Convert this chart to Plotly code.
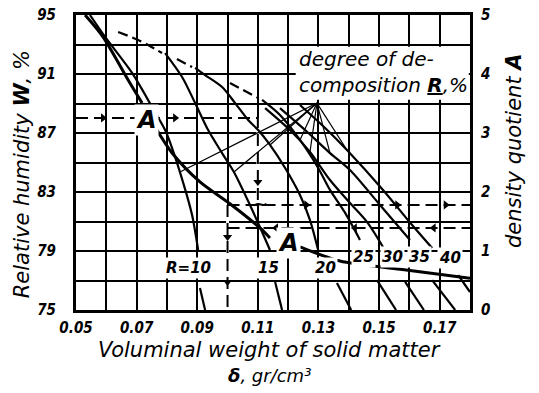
import plotly.graph_objects as go

# ---------------- data ----------------
# density quotient A curve (right axis), three pieces separated by the "A" labels
a_up_d = [0.053, 0.0589, 0.0672, 0.0718]
a_up_v = [5.0, 4.63, 3.90, 3.51]
a_mid_d = [0.0761, 0.0817, 0.0909, 0.1008, 0.1107, 0.1140]
a_mid_v = [3.10, 2.66, 2.17, 1.80, 1.39, 1.22]
a_low_d = [0.1239, 0.1371, 0.157, 0.180]
a_low_v = [1.07, 0.83, 0.69, 0.54]

# degree of decomposition R curves (left axis, W %)
r10_d = [0.0546, 0.0596, 0.0685, 0.0751, 0.0794, 0.0817, 0.0856, 0.0883, 0.0903]
r10_w = [95.0, 93.51, 91.07, 88.76, 87.20, 85.98, 83.47, 81.44, 79.07]
r10_tail_d = [0.0909, 0.0926]
r10_tail_w = [76.49, 75.0]

r15_dash_d = [0.0639, 0.0705, 0.0738, 0.0784]
r15_dash_w = [93.85, 93.31, 92.97, 92.42]
r15_d = [0.0794, 0.0850, 0.0893, 0.0936, 0.0982, 0.1021, 0.1074, 0.1114, 0.1140]
r15_w = [92.42, 90.80, 89.03, 87.20, 85.64, 84.36, 82.12, 80.29, 79.07]
r15_tail_d = [0.1157, 0.1180]
r15_tail_w = [76.90, 75.0]

r20_dash_d = [0.0833, 0.0883]
r20_dash_w = [92.02, 91.47]
r20_d = [0.0893, 0.0926, 0.0982, 0.1025, 0.1068, 0.1101, 0.1140, 0.1190, 0.1239, 0.1272, 0.1299]
r20_w = [91.41, 90.93, 90.12, 89.03, 87.88, 87.20, 86.19, 84.63, 82.80, 81.10, 79.07]
r20_tail_d = [0.1361, 0.1408]
r20_tail_w = [76.83, 75.0]

r25_dash_d = [0.1008, 0.1101]
r25_dash_w = [90.39, 89.37]
r25_d = [0.1114, 0.1173, 0.1239, 0.1299, 0.1338, 0.1388, 0.1437]
r25_w = [89.24, 88.22, 86.53, 84.63, 83.14, 81.58, 79.75]
r25_tail_d = [0.1493, 0.1556]
r25_tail_w = [77.03, 75.0]

r30_d = [0.1124, 0.1206, 0.1272, 0.1338, 0.1404, 0.1460, 0.1513]
r30_w = [88.69, 87.20, 85.71, 83.81, 82.25, 80.97, 79.27]
r30_tail_d = [0.1586, 0.1648]
r30_tail_w = [76.90, 75.0]

r35_d = [0.1173, 0.1256, 0.1338, 0.1404, 0.1503, 0.1602]
r35_w = [88.69, 87.20, 85.64, 84.49, 82.12, 79.75]
r35_tail_d = [0.1675, 0.1751]
r35_tail_w = [77.03, 75.0]

r40_d = [0.1239, 0.1322, 0.1394, 0.1513, 0.1609, 0.1675]
r40_w = [88.90, 87.34, 85.85, 83.14, 80.76, 79.20]
r40_tail_d = [0.1761, 0.1800]
r40_tail_w = [77.37, 76.22]

# curve labels
r_labels = ["<b>R</b>=10", "15", "20", "25", "30", "35", "40"]
r_label_d = [0.0870, 0.1134, 0.1322, 0.1447, 0.1543, 0.1635, 0.1734]
r_label_w = [77.85, 77.85, 77.85, 78.59, 78.59, 78.59, 78.53]

# leader lines from the "degree of decomposition" label
fan_apex = (0.1295, 89.03)
fan_d = [0.0843, 0.1021, 0.1140, 0.1239, 0.1272, 0.1338, 0.1394]
fan_w = [84.36, 84.36, 86.19, 86.53, 85.71, 85.64, 85.85]

# dashed example (key) lines
key1_d = [0.05, 0.11, 0.11]
key1_w = [88.02, 88.02, 82.12]
key2_d = [0.10, 0.18]
key2_w = [82.12, 82.12]
key3_d = [0.10, 0.18]
key3_w = [80.56, 80.56]
key4_d = [0.10, 0.10]
key4_w = [82.12, 75.0]

arrow_r_d = [0.0589, 0.0827, 0.1260, 0.1560, 0.1720]
arrow_r_w = [88.02, 88.02, 82.12, 82.12, 82.12]
arrow_l_d = [0.1160, 0.1420, 0.1680]
arrow_l_w = [80.56, 80.56, 80.56]
arrow_dn_d = [0.11, 0.10, 0.10]
arrow_dn_w = [83.68, 79.95, 76.90]

x_ticks = [0.05, 0.07, 0.09, 0.11, 0.13, 0.15, 0.17]
w_ticks = [75, 79, 83, 87, 91, 95]
a_ticks = [0, 1, 2, 3, 4, 5]

# ---------------- figure ----------------
FONT = "DejaVu Sans"
BLK = "black"
fig = go.Figure()


def line(xs, ys, width=2.2, dash=None, yaxis="y", color=BLK, shape="spline"):
    fig.add_trace(go.Scatter(
        x=xs, y=ys, mode="lines", yaxis=yaxis, hoverinfo="skip", showlegend=False,
        line=dict(color=color, width=width, dash=dash, shape=shape, smoothing=0.8)))


# white-out of grid under dashed vertical key lines
line([0.11, 0.11], [88.02, 82.12], width=3, color="white", shape="linear")
line(key4_d, key4_w, width=3, color="white", shape="linear")

# R curves
for dd, ww in [(r10_d, r10_w), (r15_d, r15_w), (r20_d, r20_w), (r25_d, r25_w),
               (r30_d, r30_w), (r35_d, r35_w), (r40_d, r40_w)]:
    line(dd, ww, width=2.2)
for dd, ww in [(r10_tail_d, r10_tail_w), (r15_tail_d, r15_tail_w), (r20_tail_d, r20_tail_w),
               (r25_tail_d, r25_tail_w), (r30_tail_d, r30_tail_w), (r35_tail_d, r35_tail_w),
               (r40_tail_d, r40_tail_w)]:
    line(dd, ww, width=2.2, shape="linear")
for dd, ww in [(r15_dash_d, r15_dash_w), (r20_dash_d, r20_dash_w), (r25_dash_d, r25_dash_w)]:
    line(dd, ww, width=2.2, dash="10px,5px")

# fan leader lines
for d, w in zip(fan_d, fan_w):
    line([fan_apex[0], d], [fan_apex[1], w], width=1.2, shape="linear")

# key dashed lines
for dd, ww in [(key1_d, key1_w), (key2_d, key2_w), (key3_d, key3_w), (key4_d, key4_w)]:
    line(dd, ww, width=2, dash="12px,6px", shape="linear")

for dd, ww, sym in [(arrow_r_d, arrow_r_w, "triangle-right"), (arrow_l_d, arrow_l_w, "triangle-left"),
                    (arrow_dn_d, arrow_dn_w, "triangle-down")]:
    fig.add_trace(go.Scatter(x=dd, y=ww, mode="markers", hoverinfo="skip", showlegend=False,
                             marker=dict(symbol=sym, size=8, color=BLK)))

# A curve (right axis)
for dd, vv in [(a_up_d, a_up_v), (a_mid_d, a_mid_v), (a_low_d, a_low_v)]:
    line(dd, vv, width=3, yaxis="y2")

# ---------------- annotations ----------------
ann = []
for t, d, w in zip(r_labels, r_label_d, r_label_w):
    ann.append(dict(x=d, y=w, xref="x", yref="y", text="<b>" + t + "</b>", showarrow=False,
                    font=dict(family=FONT, size=15, color=BLK, style="italic"), bgcolor="white"))
ann.append(dict(x=0.0734, y=87.9, xref="x", yref="y", text="<b>A</b>", showarrow=False,
                font=dict(family=FONT, size=24, color=BLK, style="italic"), bgcolor="white"))
ann.append(dict(x=0.1200, y=79.55, xref="x", yref="y", text="<b>A</b>", showarrow=False,
                font=dict(family=FONT, size=24, color=BLK, style="italic"), bgcolor="white"))
ann.append(dict(x=0.111, y=82.25, xref="x", yref="y", text="<b>~</b>", showarrow=False,
                font=dict(family=FONT, size=18, color=BLK)))
ann.append(dict(x=0.1228, y=92.05, xref="x", yref="y", xanchor="left", text="degree of de-",
                showarrow=False, font=dict(family=FONT, size=20, color=BLK, style="italic")))
ann.append(dict(x=0.1228, y=90.25, xref="x", yref="y", xanchor="left",
                text="composition <b><u>R</u></b>,%",
                showarrow=False, font=dict(family=FONT, size=20, color=BLK, style="italic")))
# axis titles
ann.append(dict(x=-0.137, y=0.46, xref="paper", yref="paper", xanchor="center", yanchor="middle",
                text="Relative humidity <b>W</b>, %",
                textangle=-90, showarrow=False, font=dict(family=FONT, size=21, color=BLK, style="italic")))
ann.append(dict(x=1.11, y=0.54, xref="paper", yref="paper", xanchor="center", yanchor="middle",
                text="density quotient <b>A</b>",
                textangle=-90, showarrow=False, font=dict(family=FONT, size=21, color=BLK, style="italic")))
ann.append(dict(x=0.49, y=-0.135, xref="paper", yref="paper", xanchor="center", yanchor="middle",
                text="Voluminal weight of solid matter", showarrow=False,
                font=dict(family=FONT, size=21, color=BLK, style="italic")))
ann.append(dict(x=0.49, y=-0.222, xref="paper", yref="paper", xanchor="center", yanchor="middle",
                text="<b>δ</b>, gr/cm³", showarrow=False,
                font=dict(family=FONT, size=18, color=BLK, style="italic")))

grid = dict(showgrid=True, gridcolor=BLK, gridwidth=2)
tickfont = dict(family="DejaVu Sans Condensed", size=15, color=BLK, style="italic", weight="bold")

fig.update_layout(
    template="none",
    width=539, height=393,
    margin=dict(l=76, r=69, t=15, b=83, autoexpand=False),
    paper_bgcolor="white", plot_bgcolor="white",
    annotations=ann,
    shapes=[dict(type="rect", xref="x", yref="y", x0=0.1225, x1=0.1796, y0=89.25, y1=92.85,
                 fillcolor="white", line=dict(width=0), layer="above")],
    xaxis=dict(range=[0.05, 0.18], tickvals=x_ticks, ticktext=[f"{v:.2f}" for v in x_ticks],
               tickfont=tickfont, ticks="", ticklabelstandoff=2, automargin=False,
               showline=True, mirror=True, linecolor=BLK, linewidth=3,
               minor=dict(dtick=0.01, tick0=0.05, showgrid=True, gridcolor=BLK, gridwidth=2),
               zeroline=False, **grid),
    yaxis=dict(range=[75, 95], tickvals=w_ticks, tickfont=tickfont, ticks="", ticklabelstandoff=14,
               showline=True, mirror=True, linecolor=BLK, linewidth=3, automargin=False,
               minor=dict(dtick=2, tick0=75, showgrid=True, gridcolor=BLK, gridwidth=2),
               zeroline=False, **grid),
    yaxis2=dict(range=[0, 5], tickvals=a_ticks, tickfont=tickfont, ticks="", ticklabelstandoff=10,
                overlaying="y", side="right", showgrid=False, zeroline=False, showline=False,
                automargin=False),
)

fig.write_html("out.html", config={"displayModeBar": False},
               post_script="document.body.style.margin='0px';")
